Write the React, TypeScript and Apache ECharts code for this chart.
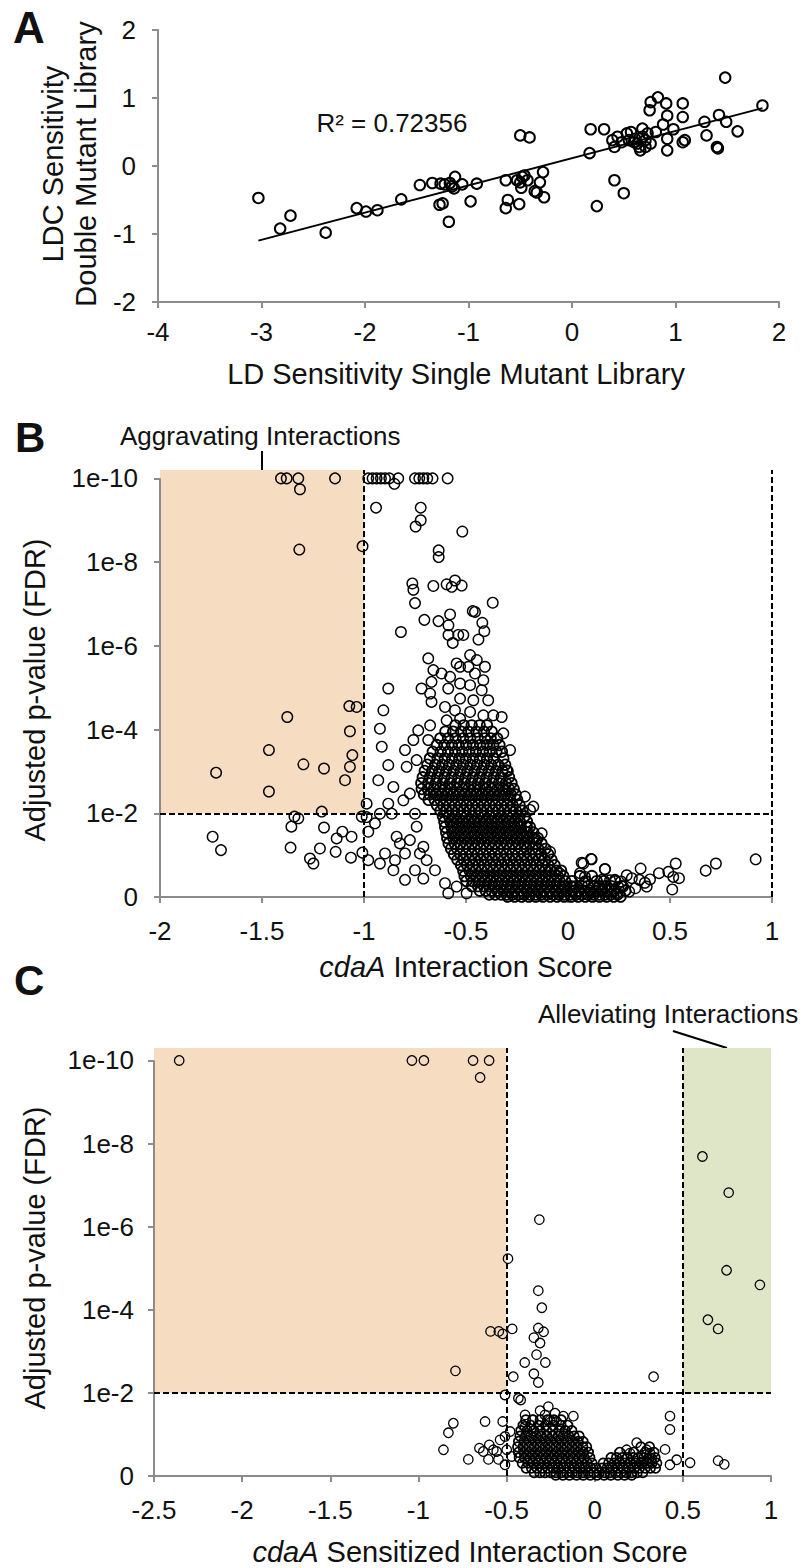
import React, { useEffect, useRef } from 'react';
import * as echarts from 'echarts';

const FONT = '"Liberation Sans", Arial, Helvetica, sans-serif';

// ---------- Panel A ----------
const aX = [-3.03, -2.82, -2.72, -2.38, -2.08, -1.99, -1.88, -1.65, -1.47, -1.35, -1.27, -1.23, -1.18, -1.16, -1.13, -1.06, -1.14, -0.92, -1.28, -1.25, -1.19, -0.98, -0.64, -0.64, -0.62, -0.51, -0.50, -0.41, -0.53, -0.49, -0.48, -0.46, -0.43, -0.36, -0.34, -0.31, -0.28, -0.27, -0.50, 0.17, 0.18, 0.24, 0.31, 0.41, 0.50, 0.39, 0.41, 0.44, 0.48, 0.53, 0.57, 0.61, 0.63, 0.66, 0.68, 0.71, 0.73, 0.76, 0.75, 0.76, 0.83, 0.91, 0.81, 0.88, 0.92, 0.92, 0.92, 0.98, 1.07, 1.07, 1.07, 1.09, 1.28, 1.30, 1.40, 1.41, 1.42, 1.48, 1.49, 1.60, 1.84, 0.60, 0.65, 0.68, 0.55, 0.71];
const aY = [-0.47, -0.92, -0.73, -0.98, -0.62, -0.67, -0.65, -0.49, -0.28, -0.25, -0.26, -0.27, -0.25, -0.30, -0.16, -0.27, -0.33, -0.26, -0.57, -0.55, -0.82, -0.52, -0.21, -0.62, -0.50, -0.56, 0.45, 0.42, -0.21, -0.32, -0.16, -0.14, -0.21, -0.37, -0.39, -0.24, -0.09, -0.46, -0.24, 0.19, 0.54, -0.59, 0.54, -0.21, -0.40, 0.38, 0.28, 0.43, 0.35, 0.48, 0.50, 0.40, 0.33, 0.23, 0.55, 0.38, 0.48, 0.33, 0.82, 0.94, 1.01, 0.92, 0.50, 0.61, 0.74, 0.40, 0.23, 0.54, 0.92, 0.72, 0.35, 0.38, 0.65, 0.45, 0.28, 0.26, 0.75, 1.30, 0.65, 0.51, 0.89, 0.35, 0.28, 0.43, 0.38, 0.28];
const trendX = [-3.03, 1.84];
const trendY = [-1.097, 0.851];
const r2Text = 'R² = 0.72356';
const r2Pos = [-1.74, 0.63];

// ---------- Panel B ----------  [score, -log10(FDR)]
const bTop = 10.2;
const bCutX = -1;
const bCutV = 2;
const bSparse = [
  [-1.407, 10], [-1.379, 10], [-1.322, 10], [-1.142, 10],
  [-0.979, 10], [-0.958, 10], [-0.938, 10], [-0.917, 10], [-0.897, 10], [-0.876, 10], [-0.832, 10], [-0.851, 9.87],
  [-0.75, 10], [-0.729, 10], [-0.709, 10], [-0.69, 10], [-0.664, 10], [-0.59, 10],
  [-1.314, 9.74], [-1.317, 8.30], [-1.007, 8.38],
  [-0.941, 9.30], [-0.722, 9.30], [-0.722, 9.00], [-0.747, 8.85], [-0.518, 8.73], [-0.634, 8.28], [-0.634, 8.12],
  [-0.763, 7.49], [-0.758, 7.34], [-0.66, 7.43], [-0.595, 7.47], [-0.554, 7.56], [-0.57, 7.41], [-0.521, 7.44],
  [-0.75, 7.02], [-0.369, 7.03], [-0.467, 6.83], [-0.456, 6.81], [-0.578, 6.75], [-0.704, 6.62], [-0.635, 6.59],
  [-0.42, 6.55], [-0.586, 6.49], [-0.586, 6.26], [-0.538, 6.26], [-0.513, 6.26], [-0.41, 6.35], [-0.439, 6.15],
  [-0.565, 6.07], [-0.819, 6.33],
  [-1.072, 4.56], [-1.036, 4.54], [-1.376, 4.30], [-1.069, 3.96], [-1.466, 3.51], [-1.297, 3.17], [-1.196, 3.07],
  [-1.069, 3.11], [-1.057, 3.39], [-1.093, 2.79], [-1.725, 2.97], [-1.466, 2.52], [-1.207, 2.04],
  [-1.742, 1.44], [-1.701, 1.12], [-1.341, 1.92], [-1.322, 1.88], [-1.356, 1.68], [-1.36, 1.18], [-1.265, 0.92],
  [-1.248, 0.80], [-1.216, 1.16], [-1.196, 1.66], [-1.139, 1.08], [-1.134, 1.40], [-1.106, 1.56], [-1.061, 1.44],
  [-1.064, 0.94], [-1.008, 1.06], [-1.011, 1.92],
  [-0.685, 5.70], [-0.66, 5.42], [-0.62, 5.34], [-0.578, 5.26], [-0.669, 5.14], [-0.718, 4.98], [-0.676, 4.86],
  [-0.669, 4.66], [-0.587, 4.98], [-0.529, 5.50], [-0.546, 5.58], [-0.48, 5.78], [-0.447, 5.66], [-0.407, 5.50],
  [-0.488, 5.50], [-0.456, 5.34], [-0.529, 5.10], [-0.48, 5.06], [-0.415, 5.18], [-0.423, 4.94], [-0.391, 4.70],
  [-0.529, 4.74], [-0.464, 4.70], [-0.603, 4.54], [-0.554, 4.46], [-0.529, 4.26], [-0.48, 4.42], [-0.415, 4.34],
  [-0.366, 4.34], [-0.325, 4.30], [-0.595, 4.22], [-0.676, 4.10], [-0.734, 3.98], [-0.685, 3.75], [-0.758, 3.75],
  [-0.799, 3.51], [-0.881, 4.98], [-0.905, 4.46], [-0.922, 4.02], [-0.913, 3.59], [-0.881, 3.15], [-0.93, 2.79],
  [-0.856, 2.63], [-0.791, 3.11], [-0.742, 3.27], [-0.284, 3.51], [-0.317, 3.91], [-0.301, 3.03], [-0.309, 2.56],
  [-0.211, 2.40], [-0.186, 2.08], [-0.17, 2.16], [-0.129, 1.52], [-0.088, 1.08], [-0.203, 1.68], [-0.154, 1.36],
  [-0.211, 1.20], [-0.088, 0.64], [-0.039, 0.56],
  [-0.987, 2.23], [-0.987, 1.91], [-0.979, 1.56], [-0.946, 1.76], [-0.881, 2.23], [-0.864, 1.99], [-0.922, 1.99],
  [-0.807, 2.31], [-0.775, 2.47], [-0.84, 1.44], [-0.824, 1.28], [-0.897, 1.04], [-0.848, 0.88], [-0.799, 1.04],
  [-0.979, 0.88], [-0.922, 0.80], [-0.856, 0.64], [-0.799, 0.41], [-0.726, 1.04], [-0.693, 0.88], [-0.75, 0.64],
  [-0.709, 0.44], [-0.652, 0.64], [-0.603, 0.33], [-0.546, 0.25], [-0.497, 0.09], [-0.587, 0.09], [-0.775, 1.36],
  [-0.742, 1.68], [-0.709, 1.20], [-0.75, 1.99],
  [0.181, 0.67], [0.113, 0.91], [0.067, 0.82], [0.059, 0.57], [0.206, 0.40], [0.247, 0.24], [0.124, 0.24], [0.026, 0.24],
  [0.116, 0.90], [0.181, 0.66], [0.356, 0.68], [0.446, 0.57], [0.492, 0.60], [0.528, 0.80], [0.516, 0.48],
  [0.544, 0.45], [0.511, 0.18], [0.402, 0.42], [0.386, 0.25], [0.377, 0.34], [0.675, 0.63], [0.725, 0.80],
  [0.92, 0.90], [0.075, 0.80], [0.083, 0.48], [0.288, 0.52], [0.313, 0.45], [0.33, 0.21], [0.26, 0.37],
  [0.23, 0.41], [0.166, 0.41], [0.15, 0.25], [0.17, 0.17], [0.27, 0.25], [0.35, 0.41], [0.21, 0.17],
  [0.24, 0.10], [0.30, 0.13], [0.08, 0.33], [0.11, 0.10]
];
const bCoreRows = [
  [4.10, -0.552, -0.511, -0.472, -0.433, -0.397],
  [3.95, -0.601, -0.563, -0.524, -0.488, -0.449, -0.412, -0.374],
  [3.79, -0.626, -0.588, -0.551, -0.514, -0.479, -0.443, -0.407, -0.379, -0.347],
  [3.63, -0.643, -0.606, -0.569, -0.536, -0.499, -0.466, -0.431, -0.398, -0.366, -0.336],
  [3.47, -0.663, -0.624, -0.588, -0.553, -0.518, -0.484, -0.451, -0.417, -0.384, -0.351, -0.324],
  [3.31, -0.677, -0.639, -0.604, -0.568, -0.533, -0.501, -0.466, -0.432, -0.397, -0.364, -0.317],
  [3.16, -0.689, -0.651, -0.616, -0.583, -0.547, -0.514, -0.479, -0.446, -0.411, -0.377, -0.342, -0.308],
  [3.01, -0.702, -0.666, -0.632, -0.597, -0.561, -0.527, -0.493, -0.458, -0.423, -0.389, -0.354, -0.321, -0.296],
  [2.86, -0.712, -0.677, -0.641, -0.606, -0.571, -0.537, -0.502, -0.467, -0.433, -0.399, -0.364, -0.329, -0.289],
  [2.72, -0.719, -0.685, -0.648, -0.614, -0.579, -0.544, -0.509, -0.476, -0.441, -0.407, -0.372, -0.338, -0.304, -0.277],
  [2.58, -0.717, -0.687, -0.658, -0.629, -0.602, -0.573, -0.545, -0.516, -0.488, -0.459, -0.431, -0.402, -0.374, -0.346, -0.318, -0.289, -0.266],
  [2.45, -0.706, -0.678, -0.649, -0.621, -0.593, -0.564, -0.536, -0.508, -0.479, -0.451, -0.423, -0.394, -0.366, -0.338, -0.309, -0.281, -0.257],
  [2.32, -0.683, -0.653, -0.625, -0.596, -0.568, -0.539, -0.511, -0.483, -0.454, -0.426, -0.398, -0.369, -0.341, -0.313, -0.284, -0.249],
  [2.19, -0.642, -0.612, -0.583, -0.555, -0.527, -0.498, -0.47, -0.442, -0.413, -0.385, -0.357, -0.328, -0.3, -0.272, -0.237],
  [2.06, -0.625, -0.595, -0.566, -0.538, -0.51, -0.481, -0.453, -0.425, -0.396, -0.368, -0.34, -0.311, -0.283, -0.255, -0.223],
  [1.93, -0.613, -0.583, -0.555, -0.526, -0.498, -0.47, -0.441, -0.413, -0.385, -0.356, -0.328, -0.3, -0.271, -0.243, -0.212],
  [1.80, -0.606, -0.576, -0.547, -0.519, -0.491, -0.462, -0.434, -0.406, -0.377, -0.349, -0.321, -0.292, -0.264, -0.236, -0.201],
  [1.67, -0.602, -0.571, -0.543, -0.515, -0.486, -0.458, -0.43, -0.401, -0.373, -0.345, -0.316, -0.288, -0.26, -0.231, -0.203, -0.187],
  [1.54, -0.597, -0.567, -0.539, -0.51, -0.482, -0.454, -0.425, -0.397, -0.369, -0.34, -0.312, -0.284, -0.255, -0.227, -0.199, -0.17],
  [1.41, -0.592, -0.562, -0.533, -0.505, -0.477, -0.448, -0.42, -0.392, -0.363, -0.335, -0.307, -0.278, -0.25, -0.222, -0.193, -0.165, -0.148],
  [1.28, -0.585, -0.555, -0.527, -0.498, -0.47, -0.442, -0.413, -0.385, -0.357, -0.328, -0.3, -0.272, -0.243, -0.215, -0.187, -0.158, -0.13],
  [1.15, -0.573, -0.543, -0.514, -0.486, -0.458, -0.429, -0.401, -0.373, -0.344, -0.316, -0.288, -0.259, -0.231, -0.203, -0.174, -0.146, -0.111],
  [1.02, -0.559, -0.528, -0.5, -0.472, -0.443, -0.415, -0.387, -0.358, -0.33, -0.302, -0.273, -0.245, -0.217, -0.188, -0.16, -0.132, -0.097],
  [0.89, -0.542, -0.511, -0.483, -0.455, -0.426, -0.398, -0.37, -0.341, -0.313, -0.285, -0.256, -0.228, -0.2, -0.171, -0.143, -0.115, -0.081],
  [0.76, -0.524, -0.494, -0.465, -0.437, -0.409, -0.38, -0.352, -0.324, -0.295, -0.267, -0.239, -0.21, -0.182, -0.154, -0.125, -0.097, -0.066],
  [0.63, -0.513, -0.482, -0.453, -0.424, -0.396, -0.367, -0.339, -0.311, -0.282, -0.254, -0.226, -0.197, -0.169, -0.141, -0.112, -0.084, -0.056, -0.034],
  [0.50, -0.507, -0.476, -0.448, -0.419, -0.391, -0.363, -0.334, -0.306, -0.278, -0.249, -0.221, -0.193, -0.164, -0.136, -0.108, -0.079, -0.051, -0.023, 0.058, 0.117],
  [0.38, -0.498, -0.467, -0.439, -0.41, -0.382, -0.354, -0.325, -0.297, -0.269, -0.24, -0.212, -0.184, -0.155, -0.127, -0.099, -0.07, -0.042, -0.014, 0.018, 0.087, 0.141, 0.176, 0.232],
  [0.26, -0.471, -0.441, -0.412, -0.384, -0.356, -0.327, -0.299, -0.271, -0.242, -0.214, -0.186, -0.157, -0.129, -0.101, -0.072, -0.044, -0.016, 0.013, 0.041, 0.069, 0.098, 0.126, 0.154, 0.183, 0.211, 0.263],
  [0.15, -0.432, -0.403, -0.374, -0.346, -0.318, -0.289, -0.261, -0.233, -0.204, -0.176, -0.148, -0.119, -0.091, -0.063, -0.034, -0.006, 0.022, 0.051, 0.079, 0.107, 0.136, 0.164, 0.192, 0.227, 0.281],
  [0.06, -0.386, -0.357, -0.328, -0.3, -0.272, -0.243, -0.215, -0.187, -0.158, -0.13, -0.102, -0.073, -0.045, -0.017, 0.012, 0.04, 0.068, 0.097, 0.125, 0.153, 0.182, 0.21, 0.243],
  [0.01, -0.296, -0.262, -0.227, -0.192, -0.158, -0.123, -0.088, -0.054, -0.019, 0.016, 0.05, 0.085, 0.12, 0.154, 0.189, 0.224, 0.258]
];

// ---------- Panel C ----------
const cTop = 10.3;
const cCutLow = -0.5;
const cCutHigh = 0.5;
const cCutV = 2;
const cSparse = [
  [-2.357, 10], [-1.037, 10], [-0.969, 10], [-0.69, 10], [-0.599, 10], [-0.65, 9.59],
  [0.611, 7.69], [0.76, 6.82], [0.748, 4.95], [0.937, 4.60], [0.642, 3.76], [0.70, 3.54],
  [-0.314, 6.17], [-0.492, 5.23], [-0.32, 4.46], [-0.30, 4.05], [-0.591, 3.48], [-0.544, 3.48], [-0.522, 3.42],
  [-0.468, 3.54], [-0.32, 3.56], [-0.29, 3.47], [-0.345, 3.33], [-0.31, 3.20], [-0.33, 2.92], [-0.397, 2.73],
  [-0.28, 2.73], [-0.79, 2.53], [-0.462, 2.39], [-0.345, 2.46], [-0.32, 2.25], [0.334, 2.39],
  [-0.509, 1.95], [-0.433, 1.87], [-0.42, 1.83], [-0.802, 1.27], [-0.83, 1.04], [-0.858, 0.63], [-0.717, 0.40],
  [-0.622, 1.31], [-0.522, 1.31], [-0.654, 0.67], [-0.632, 0.59], [-0.598, 0.75], [-0.575, 0.63], [-0.603, 0.40],
  [-0.546, 0.40], [-0.556, 0.59], [-0.537, 0.87], [-0.509, 0.95], [-0.48, 1.07], [-0.499, 0.63], [-0.471, 0.47],
  [-0.509, 0.27], [-0.395, 1.47], [-0.395, 1.19], [-0.31, 1.57], [-0.263, 1.67], [-0.225, 1.51], [-0.282, 1.47],
  [-0.178, 1.44], [-0.121, 1.44], [-0.348, 1.35], [-0.253, 1.35], [-0.216, 1.31],
  [0.427, 1.44], [0.427, 1.12], [0.399, 0.64], [0.427, 0.27], [0.465, 0.39], [0.541, 0.32], [0.238, 0.80],
  [0.181, 0.63], [0.20, 0.55], [0.295, 0.63], [0.314, 0.55], [0.323, 0.43], [0.304, 0.31], [0.276, 0.35],
  [0.70, 0.37], [0.735, 0.28]
];
const cCoreRows = [
  [1.35, -0.391, -0.352, -0.309, -0.268, -0.231, -0.19],
  [1.22, -0.406, -0.363, -0.319, -0.278, -0.236, -0.192, -0.153],
  [1.09, -0.419, -0.383, -0.346, -0.31, -0.273, -0.239, -0.202, -0.167, -0.13],
  [0.96, -0.424, -0.393, -0.363, -0.331, -0.302, -0.27, -0.24, -0.208, -0.179, -0.147, -0.117, -0.088],
  [0.83, -0.432, -0.401, -0.371, -0.339, -0.309, -0.278, -0.248, -0.216, -0.187, -0.155, -0.125, -0.094, -0.066],
  [0.70, -0.437, -0.406, -0.375, -0.344, -0.314, -0.282, -0.253, -0.221, -0.191, -0.16, -0.13, -0.098, -0.068, -0.046, 0.262, 0.311],
  [0.57, -0.433, -0.402, -0.371, -0.34, -0.31, -0.278, -0.249, -0.217, -0.187, -0.156, -0.126, -0.094, -0.065, -0.036, 0.142, 0.221, 0.287, 0.336],
  [0.44, -0.428, -0.397, -0.367, -0.335, -0.305, -0.274, -0.244, -0.212, -0.183, -0.151, -0.121, -0.09, -0.06, -0.028, 0.093, 0.124, 0.156, 0.186, 0.218, 0.247, 0.279, 0.309, 0.342],
  [0.31, -0.411, -0.379, -0.35, -0.318, -0.288, -0.257, -0.227, -0.195, -0.166, -0.134, -0.104, -0.073, -0.043, -0.015, 0.048, 0.079, 0.111, 0.141, 0.172, 0.202, 0.234, 0.263, 0.295, 0.325, 0.352],
  [0.19, -0.389, -0.359, -0.327, -0.298, -0.266, -0.236, -0.205, -0.175, -0.143, -0.114, -0.082, -0.052, -0.021, 0.009, 0.041, 0.07, 0.102, 0.132, 0.163, 0.193, 0.225, 0.254, 0.286, 0.316, 0.345],
  [0.08, -0.343, -0.311, -0.282, -0.25, -0.22, -0.189, -0.159, -0.127, -0.098, -0.066, -0.036, -0.005, 0.025, 0.057, 0.086, 0.118, 0.148, 0.179, 0.209, 0.241, 0.272],
  [0.02, -0.221, -0.181, -0.143, -0.103, -0.065, -0.025, 0.013, 0.053, 0.091, 0.131, 0.169, 0.21]
];

const pTickValues = [0, 2, 4, 6, 8, 10];
const pTickLabel = (v: number) => (v === 0 ? '0' : '1e-' + v);

const rowsToPairs = (rows: number[][]) =>
  rows.flatMap((r) => r.slice(1).map((x) => [x, r[0]]));

const ORANGE = '#F6DCC1';
const GREEN = '#DFE6C8';

export default function App() {
  const ref = useRef<HTMLDivElement>(null);

  useEffect(() => {
    document.body.style.margin = '0';
    const chart = echarts.init(ref.current!, null, { renderer: 'svg' });
    const axisCol = '#8c8c8c';
    const axisLineStyle = { color: axisCol, width: 2 };
    const lbl = { color: '#111', fontSize: 26, fontFamily: FONT };
    const dash = { color: '#000', width: 2, type: [6, 3] };
    const gray = { color: axisCol, width: 2, type: 'solid' };
    const hollow = (bw: number) => ({ color: 'rgba(0,0,0,0)', borderColor: '#000', borderWidth: bw, opacity: 1 });

    const xAxisBase = (gi: number, min: number, max: number, interval: number, margin: number) => ({
      gridIndex: gi, type: 'value', min, max, interval,
      axisLine: { show: true, onZero: false, lineStyle: axisLineStyle },
      axisTick: { show: true, length: 6, lineStyle: axisLineStyle },
      axisLabel: { ...lbl, margin },
      splitLine: { show: false },
    });
    const pAxis = (gi: number, max: number, margin: number) => ({
      gridIndex: gi, type: 'value', min: 0, max, interval: 2,
      axisLine: { show: false, onZero: false },
      axisTick: { show: true, length: 6, lineStyle: axisLineStyle, customValues: pTickValues },
      axisLabel: {
        ...lbl, margin, customValues: pTickValues,
        formatter: (v: number) => (pTickValues.indexOf(v) >= 0 ? pTickLabel(v) : ''),
      },
      splitLine: { show: false },
    });

    chart.setOption({
      animation: false,
      grid: [
        { left: 158, top: 30, width: 621, height: 272, outerBoundsMode: 'none' },
        { left: 160, top: 470, width: 612, height: 427, outerBoundsMode: 'none' },
        { left: 154, top: 1048, width: 617, height: 428, outerBoundsMode: 'none' },
      ],
      xAxis: [
        xAxisBase(0, -4, 2, 1, 17),
        xAxisBase(1, -2, 1, 0.5, 21),
        xAxisBase(2, -2.5, 1, 0.5, 21),
      ],
      yAxis: [
        {
          gridIndex: 0, type: 'value', min: -2, max: 2, interval: 1,
          axisLine: { show: true, onZero: false, lineStyle: axisLineStyle },
          axisTick: { show: true, length: 6, lineStyle: axisLineStyle },
          axisLabel: { ...lbl, margin: 22 },
          splitLine: { show: false },
        },
        pAxis(1, bTop, 22),
        pAxis(2, cTop, 20),
      ],
      series: [
        {
          type: 'scatter', xAxisIndex: 0, yAxisIndex: 0, symbol: 'circle', symbolSize: 10.5,
          itemStyle: hollow(2), emphasis: { disabled: true }, silent: true,
          data: aX.map((x, i) => [x, aY[i]]),
        },
        {
          type: 'line', xAxisIndex: 0, yAxisIndex: 0, showSymbol: false, silent: true,
          lineStyle: { color: '#000', width: 2 },
          data: trendX.map((x, i) => [x, trendY[i]]),
        },
        {
          type: 'scatter', xAxisIndex: 1, yAxisIndex: 1, symbol: 'circle', symbolSize: 10.5,
          itemStyle: hollow(1.4), emphasis: { disabled: true }, silent: true,
          data: bSparse,
          markArea: {
            silent: true, label: { show: false },
            data: [[{ coord: [-2, bCutV], itemStyle: { color: ORANGE } }, { coord: [bCutX, bTop] }]],
          },
          markLine: {
            silent: true, symbol: ['none', 'none'], label: { show: false },
            data: [
              [{ coord: [-2, 0], lineStyle: gray }, { coord: [-2, 10] }],
              [{ coord: [bCutX, 0], lineStyle: dash }, { coord: [bCutX, bTop] }],
              [{ coord: [1, 0], lineStyle: dash }, { coord: [1, bTop] }],
              [{ coord: [-2, bCutV], lineStyle: dash }, { coord: [1, bCutV] }],
            ],
          },
        },
        {
          type: 'scatter', xAxisIndex: 1, yAxisIndex: 1, symbol: 'circle', symbolSize: 10.5,
          itemStyle: hollow(1.8), emphasis: { disabled: true }, silent: true,
          data: rowsToPairs(bCoreRows),
        },
        {
          type: 'scatter', xAxisIndex: 2, yAxisIndex: 2, symbol: 'circle', symbolSize: 9.5,
          itemStyle: hollow(1.3), emphasis: { disabled: true }, silent: true,
          data: cSparse,
          markArea: {
            silent: true, label: { show: false },
            data: [
              [{ coord: [-2.5, cCutV], itemStyle: { color: ORANGE } }, { coord: [cCutLow, cTop] }],
              [{ coord: [cCutHigh, cCutV], itemStyle: { color: GREEN } }, { coord: [1, cTop] }],
            ],
          },
          markLine: {
            silent: true, symbol: ['none', 'none'], label: { show: false },
            data: [
              [{ coord: [-2.5, 0], lineStyle: gray }, { coord: [-2.5, 10] }],
              [{ coord: [cCutLow, 0], lineStyle: dash }, { coord: [cCutLow, cTop] }],
              [{ coord: [cCutHigh, 0], lineStyle: dash }, { coord: [cCutHigh, cTop] }],
              [{ coord: [-2.5, cCutV], lineStyle: dash }, { coord: [1, cCutV] }],
            ],
          },
        },
        {
          type: 'scatter', xAxisIndex: 2, yAxisIndex: 2, symbol: 'circle', symbolSize: 9.5,
          itemStyle: hollow(1.7), emphasis: { disabled: true }, silent: true,
          data: rowsToPairs(cCoreRows),
        },
      ],
    });

    const px = (gi: number, pt: number[]) => chart.convertToPixel({ gridIndex: gi }, pt) as number[];
    const r2 = px(0, r2Pos);
    const ag = px(1, [-1.5, bTop]);
    const al = px(2, [0.75, cTop]);

    const t = (text: string, x: number, y: number, size: number, extra: any = {}) => ({
      type: 'text', x, y, silent: true, rotation: extra.rotation || 0,
      style: {
        text, fill: '#111', fontSize: size, fontFamily: FONT, fontWeight: extra.weight || 'normal',
        align: extra.align || 'center', verticalAlign: 'middle', rich: extra.rich,
      },
    });
    const italicRich = { i: { fontStyle: 'italic', fontSize: 29, fontFamily: FONT, fill: '#111' } };

    chart.setOption({
      graphic: [
        t('A', 13, 27.5, 44, { weight: 'bold', align: 'left' }),
        t('B', 15, 437.5, 42, { weight: 'bold', align: 'left' }),
        t('C', 14, 980, 42, { weight: 'bold', align: 'left' }),
        t(r2Text, r2[0], r2[1], 26),
        t('LD Sensitivity Single Mutant Library', 456, 374, 29),
        t('LDC Sensitivity', 53, 164, 29, { rotation: Math.PI / 2 }),
        t('Double Mutant Library', 86, 164, 29, { rotation: Math.PI / 2 }),
        t('Aggravating Interactions', 120, 436, 26, { align: 'left' }),
        {
          type: 'line', silent: true,
          shape: { x1: ag[0], y1: ag[1] - 19, x2: ag[0], y2: ag[1] },
          style: { stroke: '#000', lineWidth: 2 },
        },
        t('Adjusted p-value (FDR)', 35, 690, 29, { rotation: Math.PI / 2 }),
        t('{i|cdaA} Interaction Score', 466, 967, 29, { rich: italicRich }),
        t('Alleviating Interactions', 538, 1014, 26, { align: 'left' }),
        {
          type: 'line', silent: true,
          shape: { x1: al[0] - 54, y1: al[1] - 17, x2: al[0], y2: al[1] },
          style: { stroke: '#000', lineWidth: 2 },
        },
        t('Adjusted p-value (FDR)', 35, 1258, 29, { rotation: Math.PI / 2 }),
        t('{i|cdaA} Sensitized Interaction Score', 470, 1552, 29, { rich: italicRich }),
      ],
    });

    return () => chart.dispose();
  }, []);

  return <div ref={ref} style={{ width: 804, height: 1568 }} />;
}
